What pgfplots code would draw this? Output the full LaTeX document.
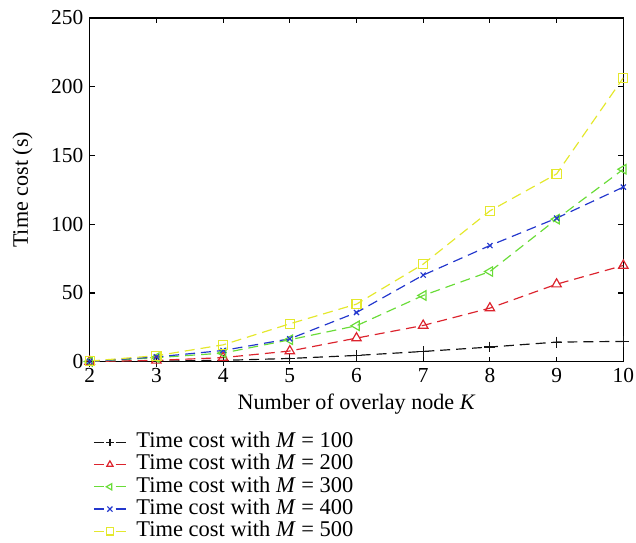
\documentclass[border=0pt]{standalone}
\usepackage{fontspec}
\setmainfont{Liberation Serif}
\usepackage{pgfplots}
\pgfplotsset{compat=1.18}
\usetikzlibrary{calc}
\definecolor{cblack}{RGB}{20,20,20}
\definecolor{cred}{RGB}{220,35,45}
\definecolor{cgreen}{RGB}{105,220,55}
\definecolor{cblue}{RGB}{35,55,205}
\definecolor{cyellow}{RGB}{228,232,45}

\begin{document}
\begin{tikzpicture}
\begin{axis}[
    name=ax,
    scale only axis,
    width=294.5pt,
    height=189.75pt,
    xmin=2, xmax=10,
    ymin=0, ymax=250,
    xtick={2,3,...,10},
    ytick={0,50,...,250},
    tick align=inside,
    major tick length=2.8pt,
    axis line style={line width=0.8pt},
    tick style={line width=0.6pt, black},
    font=\fontsize{11.8}{12.5}\selectfont,
    /pgf/number format/assume math mode=true,
    xlabel={Number of overlay node \textit{K}},
    ylabel={Time cost (s)},
    xlabel style={at={(axis description cs:0.5,-0.122)}, anchor=center, font=\fontsize{12.2}{13}\selectfont},
    ylabel style={at={(axis description cs:-0.126,0.5)}, anchor=center, font=\fontsize{12.2}{13}\selectfont},
    every axis plot/.append style={line width=0.65pt, dash pattern=on 5.5pt off 3.3pt},
    legend cell align=left,
    legend style={
        at={(axis description cs:-0.004,-0.19)}, anchor=north west,
        draw=none, fill=none,
        font=\fontsize{12.4}{12.5}\selectfont,
        row sep=0pt,
        /tikz/every odd column/.append style={column sep=5pt},
        nodes={inner sep=0.5pt, text height=8.6pt, text depth=2.7pt},
    },
    legend image code/.code={
        \draw[mark=none, solid] (0cm,0cm) -- (0.2cm,0cm);
        \draw[mark=none, solid] (0.42cm,0cm) -- (0.62cm,0cm);
        \draw[only marks, mark size=2pt] plot coordinates {(0.31cm,0cm)};
    },
]
\addplot[cblack, mark=+, mark size=3pt, mark options={solid}] coordinates {
    (2,0.1) (3,0.5) (4,1.0) (5,2.4) (6,4.6) (7,7.5) (8,10.7) (9,14.3) (10,14.8)
};
\addlegendentry{Time cost with \textit{M} = 100}
\addplot[cred, mark=triangle, mark size=3pt, mark options={solid}] coordinates {
    (2,0.2) (3,1.0) (4,3.0) (5,7.8) (6,17.2) (7,26.4) (8,39.0) (9,56.4) (10,70.0)
};
\addlegendentry{Time cost with \textit{M} = 200}
\addplot[cgreen, mark=triangle, mark size=3pt, mark options={solid, rotate=90}] coordinates {
    (2,0.2) (3,3.0) (4,6.3) (5,16.0) (6,26.2) (7,48.2) (8,65.6) (9,103.7) (10,140.0)
};
\addlegendentry{Time cost with \textit{M} = 300}
\addplot[cblue, mark=x, mark size=2pt, mark options={solid}] coordinates {
    (2,0.3) (3,3.5) (4,8.2) (5,16.7) (6,35.8) (7,63.0) (8,84.5) (9,104.4) (10,127.0)
};
\addlegendentry{Time cost with \textit{M} = 400}
\addplot[cyellow, mark=square, mark size=2.5pt, mark options={solid}] coordinates {
    (2,0.5) (3,4.4) (4,12.3) (5,27.6) (6,41.9) (7,71.0) (8,109.7) (9,136.6) (10,206.5)
};
\addlegendentry{Time cost with \textit{M} = 500}
\end{axis}
\pgfresetboundingbox
\path ($(ax.south west)+(-49.5pt,-99.5pt)$) rectangle ($(ax.south west)+(301.5pt,199.65pt)$);
\end{tikzpicture}
\end{document}
